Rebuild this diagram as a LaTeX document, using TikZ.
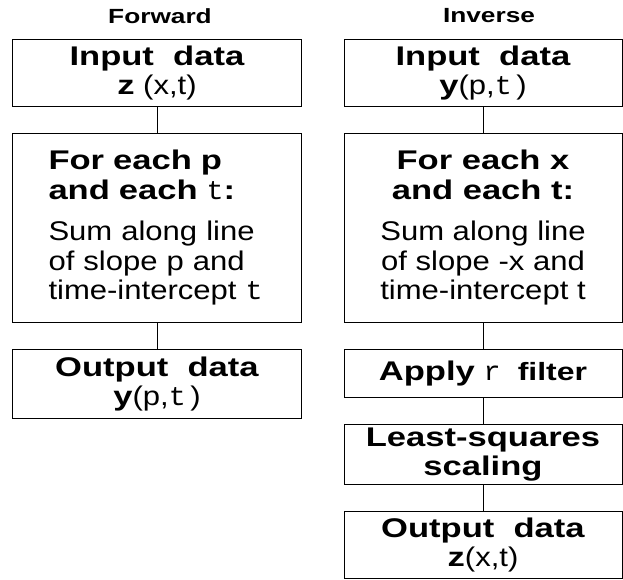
\documentclass[tikz,border=0pt]{standalone}
\usepackage{fontspec}
\setmainfont{Liberation Sans}[FakeStretch=1.15, BoldFeatures={FakeStretch=1.28}]
\newfontfamily\tfont{Liberation Mono}[FakeStretch=1.05]
\usetikzlibrary{positioning}
\newcommand{\tvar}{{\tfont\mdseries t}}
\newcommand{\rfilt}{{\tfont\mdseries r}}

\begin{document}
\begin{tikzpicture}[x=1pt, y=-1pt, line width=1pt, node distance=26pt,
  box/.style={draw, align=center, inner sep=0pt, font=\fontsize{27}{29.5}\selectfont},
  fwd/.style={box, minimum width=289pt},
  inv/.style={box, minimum width=278pt},
  title/.style={font=\fontsize{20.5}{24}\selectfont\bfseries}]
\useasboundingbox (0,0) rectangle (623,579);
\node[title] (ftitle) at (160,16) {Forward};
\node[title] (ititle) at (489,16) {Inverse};

% forward column
\node[fwd, minimum height=67pt, anchor=north] (fin) at (157,39)
  {\textbf{Input\ \ data}\\\textbf{z} (x,t)};
\node[fwd, align=left, text width=217pt, minimum height=189pt, below=of fin] (fsum)
  {\textbf{For each p}\\\textbf{and each} \tvar\textbf{:}\\[12pt]
   Sum along line\\of slope p and\\time-intercept\ \tvar};
\node[fwd, minimum height=69pt, below=of fsum] (fout)
  {\textbf{Output\ \ data}\\\textbf{y}(p,\tvar\,)};
\draw (fin) -- (fsum);
\draw (fsum) -- (fout);

% inverse column
\node[inv, minimum height=67pt, anchor=north] (iin) at (483,39)
  {\textbf{Input\ \ data}\\\textbf{y}(p,\tvar\,)};
\node[inv, minimum height=189pt, below=of iin] (isum)
  {\textbf{For each x}\\\textbf{and each t:}\\[12pt]
   Sum along line\\of slope -x and\\time-intercept t};
\node[inv, minimum height=48pt, below=of isum] (ifilt)
  {\textbf{Apply} \rfilt\ \ {\fontsize{25}{25}\selectfont\bfseries filter}};
\node[inv, minimum height=60pt, below=of ifilt] (iscale)
  {\textbf{Least-squares}\\\textbf{scaling}};
\node[inv, minimum height=67pt, below=of iscale] (iout)
  {\textbf{Output\ \ data}\\\textbf{z}(x,t)};
\draw (iin) -- (isum);
\draw (isum) -- (ifilt);
\draw (ifilt) -- (iscale);
\draw (iscale) -- (iout);
\end{tikzpicture}
\end{document}
